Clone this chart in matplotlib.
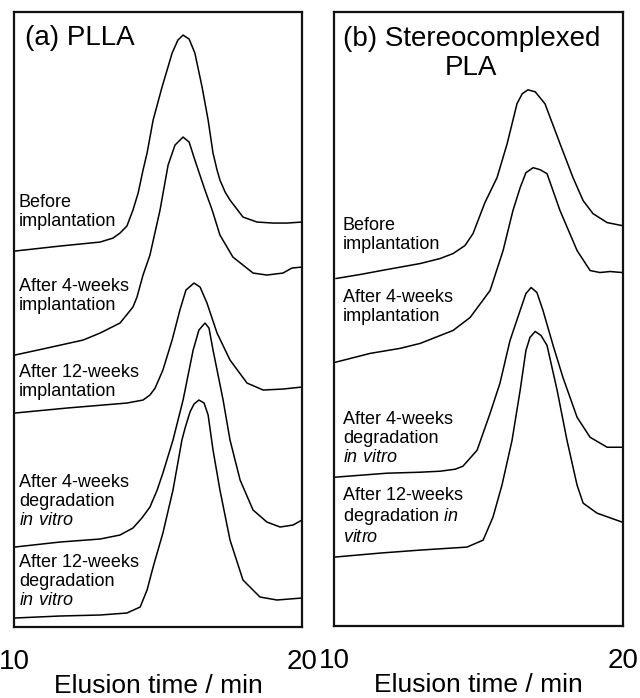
import matplotlib
matplotlib.use('Agg')
import matplotlib.pyplot as plt

plt.rcParams['font.family'] = ['Liberation Sans', 'DejaVu Sans']
plt.rcParams['mathtext.fontset'] = 'custom'
plt.rcParams['mathtext.rm'] = 'Liberation Sans'
plt.rcParams['mathtext.it'] = 'Liberation Sans:italic'

# ---- (a) PLLA : elusion time (min) / offset detector signal (a.u.) ----
t_a1 = [10.03, 11.60, 12.99, 13.44, 13.68, 13.92, 14.13, 14.31, 14.48, 14.62, 14.83, 15.14, 15.49,
        15.69, 15.87, 16.08, 16.28, 16.53, 16.74, 16.91, 17.05, 17.15, 17.33, 17.50, 17.95, 18.44,
        18.99, 19.48, 20.00]
y_a1 = [376, 381, 385, 389, 394, 401, 417, 434, 457, 474, 507, 540, 574,
        587, 592, 588, 574, 540, 507, 474, 457, 447, 435, 427, 410, 405,
        404, 404, 405]

t_a2 = [10.03, 11.15, 12.40, 12.99, 13.68, 14.13, 14.27, 14.48, 14.72, 15.07, 15.35, 15.59, 15.87,
        16.08, 16.28, 16.63, 16.88, 17.15, 17.60, 18.30, 18.78, 19.34, 19.65, 20.00]
y_a2 = [272, 279, 287, 294, 304, 320, 330, 352, 372, 417, 462, 482, 490,
        485, 467, 437, 417, 392, 370, 354, 352, 354, 359, 360]

t_a3 = [10.03, 11.84, 13.92, 14.48, 14.72, 14.90, 15.17, 15.49, 15.76, 15.97, 16.25, 16.46, 16.70,
        17.05, 17.50, 18.09, 18.65, 19.34, 20.00]
y_a3 = [214, 219, 224, 227, 232, 239, 257, 287, 317, 337, 344, 340, 324,
        294, 267, 244, 237, 238, 240]

t_a4 = [10.03, 11.60, 12.99, 13.68, 14.13, 14.44, 14.72, 14.97, 15.17, 15.52, 15.87, 16.22, 16.42,
        16.63, 16.77, 16.91, 17.26, 17.50, 17.85, 18.30, 18.78, 19.24, 19.69, 20.00]
y_a4 = [80, 85, 88, 92, 99, 109, 120, 137, 154, 187, 227, 277, 297,
        304, 299, 277, 227, 187, 147, 117, 105, 100, 102, 107]

t_a5 = [10.03, 11.60, 12.99, 13.92, 14.38, 14.62, 14.83, 15.17, 15.52, 15.83, 15.94, 16.11, 16.25,
        16.42, 16.60, 16.74, 16.91, 17.15, 17.50, 17.95, 18.54, 19.13, 20.00]
y_a5 = [9, 11, 12, 14, 20, 37, 60, 94, 137, 187, 199, 215, 223,
        227, 224, 212, 177, 137, 87, 47, 30, 27, 29]

# ---- (b) Stereocomplexed PLA ----
t_b1 = [10.07, 10.90, 11.83, 12.98, 13.67, 14.12, 14.53, 14.81, 15.22, 15.64, 15.99, 16.33, 16.51,
        16.71, 16.96, 17.30, 17.82, 18.27, 18.62, 18.96, 19.45, 19.97]
y_b1 = [348, 352, 357, 363, 368, 373, 381, 393, 424, 449, 483, 523, 533,
        537, 535, 523, 483, 449, 426, 413, 404, 401]

t_b2 = [10.03, 11.25, 12.28, 12.98, 14.12, 14.71, 15.40, 15.85, 16.19, 16.44, 16.64, 16.89, 17.13,
        17.37, 17.82, 18.41, 18.86, 19.20, 19.55, 19.97]
y_b2 = [264, 273, 278, 283, 296, 309, 336, 376, 416, 439, 454, 459, 457,
        453, 416, 376, 356, 354, 355, 354]

t_b3 = [10.03, 11.83, 12.98, 13.67, 14.19, 14.46, 14.95, 15.40, 15.74, 16.09, 16.44, 16.64, 16.82,
        17.02, 17.23, 17.58, 17.92, 18.41, 18.86, 19.45, 19.97]
y_b3 = [149, 153, 154, 155, 157, 160, 176, 213, 243, 286, 316, 333, 339,
        334, 316, 281, 249, 209, 189, 179, 179]

t_b4 = [10.03, 11.59, 12.98, 14.60, 15.16, 15.50, 15.81, 16.16, 16.44, 16.64, 16.78, 16.96, 17.16,
        17.37, 17.72, 18.06, 18.41, 18.62, 19.10, 19.97]
y_b4 = [69, 73, 76, 79, 86, 109, 141, 186, 236, 276, 289, 295, 291,
        281, 236, 186, 141, 123, 113, 104]

labels_a = ['Before\nimplantation',
            'After 4-weeks\nimplantation',
            'After 12-weeks\nimplantation',
            'After 4-weeks\ndegradation\n$\\it{in\\ vitro}$',
            'After 12-weeks\ndegradation\n$\\it{in\\ vitro}$']
labels_b = ['Before\nimplantation',
            'After 4-weeks\nimplantation',
            'After 4-weeks\ndegradation\n$\\it{in\\ vitro}$',
            'After 12-weeks\ndegradation $\\it{in}$\n$\\it{vitro}$']

fig = plt.figure(figsize=(6.4, 6.98), dpi=100)
ax1 = fig.add_axes([0.0219, 0.1017, 0.45, 0.881])
ax2 = fig.add_axes([0.5219, 0.1032, 0.4516, 0.8797])

for t, y in [(t_a1, y_a1), (t_a2, y_a2), (t_a3, y_a3), (t_a4, y_a4), (t_a5, y_a5)]:
    ax1.plot(t, y, color='black', lw=1.1)
for t, y in [(t_b1, y_b1), (t_b2, y_b2), (t_b3, y_b3), (t_b4, y_b4)]:
    ax2.plot(t, y, color='black', lw=1.1)

for ax in (ax1, ax2):
    ax.set_xlim(10, 20)
    ax.set_ylim(0, 615)
    ax.set_xticks([10, 20])
    ax.set_xticklabels(['10', '20'])
    ax.set_yticks([])
    ax.tick_params(axis='x', length=0, pad=16, labelsize=20)
    ax.set_xlabel('Elusion time / min', fontsize=19, labelpad=-1)
    for sp in ax.spines.values():
        sp.set_linewidth(1.6)
        sp.set_color('#111111')

ax1.text(0.038, 0.958, '(a) PLLA', transform=ax1.transAxes, fontsize=20, va='center', ha='left')
ax2.text(0.475, 0.932, '(b) Stereocomplexed\nPLA', transform=ax2.transAxes, fontsize=20,
         va='center', ha='center', linespacing=1.15)

ya = [0.675, 0.538, 0.398, 0.204, 0.074]
for lab, yy in zip(labels_a, ya):
    ax1.text(0.017, yy, lab, transform=ax1.transAxes, fontsize=13, va='center', ha='left',
             linespacing=1.15)

yb = [0.636, 0.519, 0.306, 0.178]
for lab, yy in zip(labels_b, yb):
    ax2.text(0.031, yy, lab, transform=ax2.transAxes, fontsize=13, va='center', ha='left',
             linespacing=1.15)

fig.savefig('out.png', dpi=100)
